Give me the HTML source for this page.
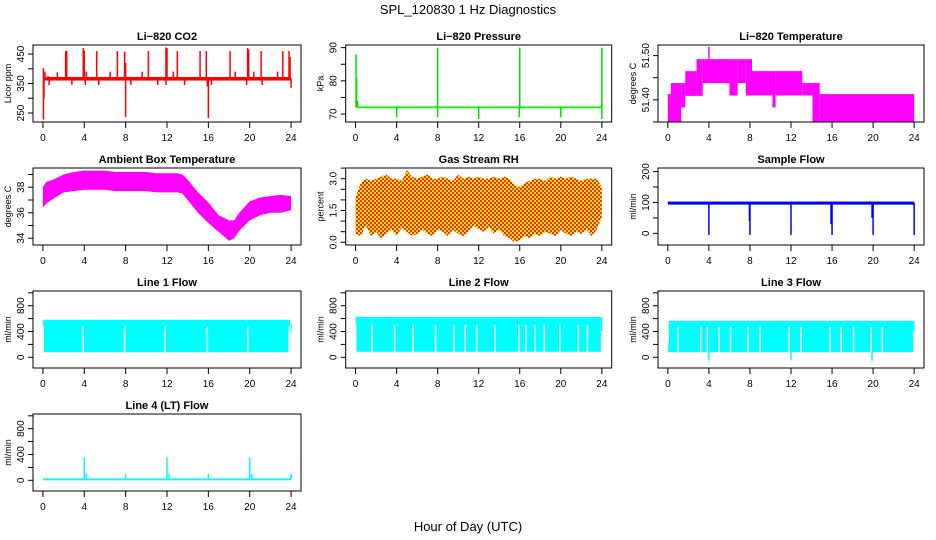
<!DOCTYPE html>
<html><head><meta charset="utf-8">
<style>
body{margin:0;background:#fff;}
svg{display:block;font-family:"Liberation Sans",Arial,sans-serif;}
</style></head>
<body>
<svg id="c" width="936" height="540" viewBox="0 0 936 540">
<defs>
<pattern id="rhpat" width="4" height="4" patternUnits="userSpaceOnUse">
<rect width="4" height="4" fill="#ffee00"/><rect width="2" height="2" fill="#ff2000"/><rect x="2" y="2" width="2" height="2" fill="#ff2000"/>
</pattern>
</defs>
<text x="468" y="14" text-anchor="middle" font-size="13">SPL_120830  1 Hz Diagnostics</text>
<text x="468" y="531" text-anchor="middle" font-size="13">Hour of Day (UTC)</text>
</svg>
<script>
// ---- data ----
const xTicks=[0,4,8,12,16,20,24];
// CO2
const co2Base=[360,372];
const co2SpikeHours=[0.05,0.2,0.5,1.4,2.2,2.3,3.9,4.0,4.2,5.2,6.5,7.2,7.9,8.0,9.6,10.2,11.9,12.0,12.6,13.0,15.2,15.8,18.1,18.6,19.8,19.9,20.4,21.1,22.7,23.2,23.8,23.9,0.05,0.1,8.0,16.0,0.6,2.8,4.1,5.4,8.5,11.1,11.9,13.7,15.9,16.3,19.7,21.2,24.0];
const co2SpikeVals=[402,390,375,388,460,460,470,460,390,460,390,460,458,420,390,460,472,470,390,460,460,460,460,390,470,465,390,460,390,460,460,440,228,300,236,233,345,345,345,345,345,345,345,345,340,345,345,345,335];
// Pressure
const presBase=72;
const presSpikeHours=[0.05,0.1,0.2,4.0,8.0,8.0,12.0,16.0,15.95,20.0,24.0,24.0];
const presSpikeVals=[88,81,74,69,90,69,68.5,90,69,69,90,68.5];
// Li-820 temperature steps
const tStart=[0,0.3,1.3,1.7,2.8,3.4,6.0,6.8,7.6,8.2,10.2,10.5,13.1,14.1,14.8];
const tEnd=[0.3,1.3,1.7,2.8,3.4,6.0,6.8,7.6,8.2,10.2,10.5,13.1,14.1,14.8,24.0];
const tLo=[51.35,51.35,51.383,51.409,51.409,51.438,51.41,51.438,51.41,51.41,51.383,51.41,51.41,51.35,51.35];
const tHi=[51.413,51.438,51.438,51.465,51.492,51.492,51.492,51.492,51.492,51.465,51.465,51.465,51.438,51.438,51.413];
const tSpikeHours=[4.0];
const tSpikeVals=[51.52];
// Ambient box temperature envelope
const ambHours=[0,0.3,1,2,3,4,5,6,7,8,9,10,11,12,13,13.5,14,15,16,17,18,18.5,19,20,21,22,23,24];
const ambLo=[36.4,36.7,37.1,37.6,37.7,37.8,37.8,37.8,37.7,37.7,37.7,37.7,37.6,37.6,37.6,37.5,37.0,36.0,35.2,34.5,33.8,34.0,34.6,35.4,35.8,36.0,36.0,36.2];
const ambHi=[38.0,38.4,38.6,39.0,39.2,39.3,39.3,39.3,39.2,39.2,39.2,39.2,39.1,39.1,39.1,39.0,38.6,37.6,36.8,35.8,35.4,35.4,36.0,36.9,37.2,37.3,37.4,37.3];
// Gas stream RH envelope (half-hourly)
const rhHi=[2.1,2.8,3.0,2.9,3.0,3.1,3.2,3.0,3.0,2.9,3.4,3.1,3.0,3.1,3.2,3.0,3.0,3.1,3.0,2.9,3.2,3.0,3.1,3.0,3.1,3.0,3.0,3.1,3.0,3.1,3.0,2.7,2.6,2.8,2.9,3.0,3.0,2.9,3.1,3.0,3.1,3.0,3.1,3.0,2.9,3.0,3.0,3.0,2.6];
const rhLo=[0.4,0.3,0.8,0.3,0.5,0.2,0.4,0.6,0.3,0.7,0.5,0.3,0.4,0.6,0.4,0.3,0.6,0.5,0.3,0.6,0.4,0.3,0.5,0.8,0.6,0.5,0.7,0.4,0.6,0.3,0.2,0.0,0.1,0.3,0.2,0.4,0.3,0.5,0.4,0.3,0.6,0.4,0.3,0.5,0.4,0.6,0.3,0.6,1.2];
// Sample flow
const sfBand=[93,103];
const sfSpikeHours=[4.0,8.0,7.95,12.0,16.0,15.9,20.0,19.9,24.0];
const sfSpikeVals=[-5,-5,40,-5,-5,30,-5,50,-5];
// Line flows
const l1Band=[80,580];
const l1GapHours=[3.9,7.9,11.8,15.9,19.8,23.8];
const l1GapTop=480;
const l2Band=[85,625];
const l2GapHours=[1.6,3.8,5.6,7.8,9.6,10.7,11.8,13.6,15.9,16.6,17.5,18.4,19.9,21.7,22.6];
const l2GapTop=505;
const l3Band=[80,565];
const l3GapHours=[1.0,3.2,3.85,5.0,6.1,7.8,9.0,11.8,13.0,15.8,16.9,18.1,19.8,20.9];
const l3GapTop=470;
const l3SpikeHours=[4.0,12.0,19.9];
const l3SpikeVals=[-50,-40,-50];
const l4Base=[0,30];
const l4SpikeHours=[4.0,4.2,8.0,12.0,12.2,16.0,20.0,20.2,24.0];
const l4SpikeVals=[350,100,100,350,100,100,350,100,100];

// ---- helpers ----
const svg=document.getElementById('c');
const NS='http://www.w3.org/2000/svg';
function mk(tag,attrs,parent){const e=document.createElementNS(NS,tag);for(const k in attrs)e.setAttribute(k,attrs[k]);(parent||svg).appendChild(e);return e;}
const colL=[33,345.7,658],colR=[301,611.7,924],rowT=[45,168,291,414];
function panel(col,row,ydom,name){
  const left=colL[col],right=colR[col],top=rowT[row],bottom=top+77;
  const g=mk('g',{});
  
  
  return {g,left,right,top,bottom,
    x:h=>left+(h+0.96)*(right-left)/25.92,
    y:v=>bottom-(v-ydom[0])/(ydom[1]-ydom[0])*77};
}
function frame(p,title,ylab,yt,yl,fmt){
  const f=mk('rect',{x:p.left,y:p.top,width:p.right-p.left,height:77,fill:'none',stroke:'#000','stroke-width':1},p.g);
  
  
  const t=mk('text',{x:(p.left+p.right)/2,y:p.top-5,'text-anchor':'middle','font-size':11,'font-weight':'bold'},p.g);
  t.textContent=title;
  
  
  xTicks.forEach(h=>{
    const X=p.x(h);
    mk('line',{x1:X,x2:X,y1:p.bottom,y2:p.bottom+6,stroke:'#000'},p.g);
    const tl=mk('text',{x:X,y:p.bottom+19,'text-anchor':'middle','font-size':10},p.g);
    tl.textContent=h;
    
    
  });
  yt.forEach(v=>{
    const Y=p.y(v);
    mk('line',{x1:p.left-5,x2:p.left,y1:Y,y2:Y,stroke:'#000'},p.g);
  });
  yl.forEach(v=>{
    const Y=p.y(v),X=p.left-9;
    const tl=mk('text',{x:X,y:Y,'text-anchor':'middle','font-size':10,transform:`rotate(-90 ${X} ${Y})`},p.g);
    tl.textContent=fmt?fmt(v):v;
    
    
  });
  const X=p.left-22,Y=(p.top+p.bottom)/2;
  const yl2=mk('text',{x:X,y:Y,'text-anchor':'middle','font-size':9,transform:`rotate(-90 ${X} ${Y})`},p.g);
  yl2.textContent=ylab;
  
  
}
function bandRect(p,h0,h1,lo,hi,color){
  return mk('rect',{x:p.x(h0),y:p.y(hi),width:Math.max(1,p.x(h1)-p.x(h0)),height:Math.max(1,p.y(lo)-p.y(hi)),fill:color},p.g);
}
function spikes(p,hours,vals,base,color,w){
  hours.forEach((h,i)=>{
    const l=mk('line',{x1:p.x(h),x2:p.x(h),y1:p.y(base),y2:p.y(vals[i]),stroke:color,'stroke-width':w||1.2},p.g);
    
    
  });
}
function envelope(p,hours,lo,hi,fill){
  let pts=hours.map((h,i)=>p.x(h)+','+p.y(hi[i]));
  for(let i=hours.length-1;i>=0;i--)pts.push(p.x(hours[i])+','+p.y(lo[i]));
  return mk('polygon',{points:pts.join(' '),fill:fill},p.g);
}
function gaps(p,hours,lo,top){
  hours.forEach(h=>{
    const l=mk('line',{x1:p.x(h),x2:p.x(h),y1:p.y(lo)+0.5,y2:p.y(top),stroke:'#fff','stroke-width':1.5},p.g);
    
    
  });
}

// ---- CO2 ----
let p=panel(0,0,[219.5,480.5],'co2-panel');
let b=bandRect(p,0.1,24,co2Base[0],co2Base[1],'#ff0000');


spikes(p,co2SpikeHours,co2SpikeVals,366,'#ff0000',1.5);
frame(p,'Li\u2212820 CO2','Licor ppm',[250,300,350,400,450],[250,350,450]);

// ---- Pressure ----
p=panel(1,0,[67.6,90.8],'pressure-panel');
b=bandRect(p,0.1,24,presBase-0.25,presBase+0.3,'#00ff00');


spikes(p,presSpikeHours,presSpikeVals,presBase,'#00dd00',1.5);
frame(p,'Li\u2212820 Pressure','kPa',[70,75,80,85,90],[70,80,90]);

// ---- Li-820 Temperature ----
p=panel(2,0,[51.350,51.524],'li820-temp-panel');
tStart.forEach((s,i)=>{
  const r=bandRect(p,s,tEnd[i],tLo[i],tHi[i],'#ff00ff');
  
  
});
spikes(p,tSpikeHours,tSpikeVals,51.49,'#ff00ff',1.5);
frame(p,'Li\u2212820 Temperature','degrees C',[51.35,51.40,51.45,51.50],[51.40,51.50],v=>v.toFixed(2));

// ---- Ambient ----
p=panel(0,1,[33.47,39.51],'ambient-temp-panel');
b=envelope(p,ambHours,ambLo,ambHi,'#ff00ff');


frame(p,'Ambient Box Temperature','degrees C',[34,35,36,37,38,39],[34,36,38]);

// ---- RH ----
p=panel(1,1,[-0.127,3.505],'rh-panel');
const rhHours=rhHi.map((_,i)=>i*0.5);
b=envelope(p,rhHours,rhLo,rhHi,'url(#rhpat)');


frame(p,'Gas Stream RH','percent',[0,0.5,1,1.5,2,2.5,3,3.5],[0,1.5,3],v=>v.toFixed(1));

// ---- Sample flow ----
p=panel(2,1,[-37.7,211.6],'sample-flow-panel');
b=bandRect(p,0,24,sfBand[0],sfBand[1],'#0000ff');


spikes(p,sfSpikeHours,sfSpikeVals,98,'#0000ff',1.5);
frame(p,'Sample Flow','ml/min',[0,50,100,150,200],[0,100,200]);

// ---- Line flows ----
const fdom=[-166,1028],ft=[0,200,400,600,800,1000],fl=[0,400,800];
p=panel(0,2,fdom,'line1-flow-panel');
b=bandRect(p,0.1,23.9,l1Band[0],l1Band[1],'#00ffff');


bandRect(p,0,0.1,480,580,'#00ffff');
bandRect(p,23.95,24.05,380,520,'#00ffff');
gaps(p,l1GapHours,l1Band[0],l1GapTop);
frame(p,'Line 1 Flow','ml/min',ft,fl);

p=panel(1,2,fdom,'line2-flow-panel');
b=bandRect(p,0.1,23.9,l2Band[0],l2Band[1],'#00ffff');


bandRect(p,0,0.1,520,640,'#00ffff');
bandRect(p,23.9,24.05,400,620,'#00ffff');
gaps(p,l2GapHours,l2Band[0],l2GapTop);
frame(p,'Line 2 Flow','ml/min',ft,fl);

p=panel(2,2,fdom,'line3-flow-panel');
b=bandRect(p,0.1,23.9,l3Band[0],l3Band[1],'#00ffff');


bandRect(p,0,0.1,80,200,'#00ffff');
bandRect(p,23.9,24.05,400,560,'#00ffff');
gaps(p,l3GapHours,l3Band[0],l3GapTop);
spikes(p,l3SpikeHours,l3SpikeVals,100,'#00ffff',1.5);
frame(p,'Line 3 Flow','ml/min',ft,fl);

p=panel(0,3,fdom,'line4-flow-panel');
b=bandRect(p,0,24,l4Base[0],l4Base[1],'#00ffff');


spikes(p,l4SpikeHours,l4SpikeVals,20,'#00ffff',1.5);
frame(p,'Line 4 (LT) Flow','ml/min',ft,fl);
</script>
</body></html>
